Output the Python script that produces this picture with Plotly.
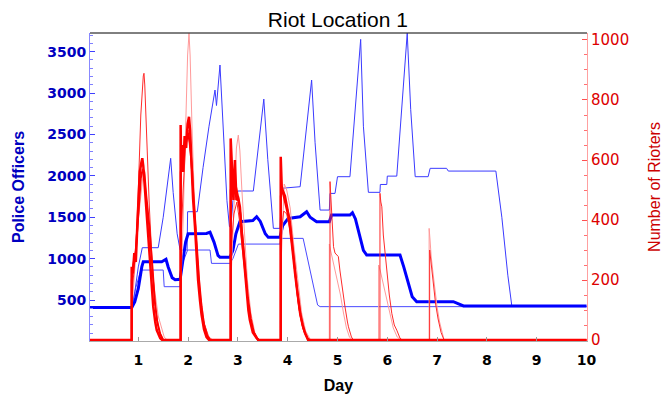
import plotly.graph_objects as go

# ---------------- Police officers (left axis) ----------------
police_mean_day = [0.03, 0.87, 0.93, 1.0, 1.07, 1.10, 1.47, 1.556, 1.60, 1.68, 1.74, 1.84, 1.90, 1.95, 2.0,
                   2.37, 2.44, 2.52, 2.60, 2.64, 2.84, 2.90, 2.96, 3.04, 3.30, 3.377, 3.45, 3.55, 3.61,
                   3.845, 3.90, 4.01, 4.25, 4.38, 4.45, 4.58, 4.836, 4.88, 5.25, 5.30, 5.36, 5.45, 5.52,
                   5.586, 6.255, 6.33, 6.42, 6.50, 6.59, 7.326, 7.53, 10.0]
police_mean = [410, 410, 480, 640, 900, 963, 963, 992, 900, 770, 745, 750, 1000, 1200, 1300,
               1305, 1320, 1200, 1040, 1016, 1016, 1100, 1300, 1446, 1460, 1506, 1450, 1300, 1257,
               1257, 1400, 1486, 1506, 1567, 1500, 1446, 1446, 1527, 1527, 1555, 1480, 1250, 1100,
               1044, 1044, 900, 700, 540, 480, 480, 428, 428]

police_high_day = [0.03, 0.87, 0.93, 1.0, 1.08, 1.40, 1.50, 1.58, 1.65, 1.70, 1.78, 1.84, 1.98, 1.99, 2.185,
                   2.30, 2.42, 2.54, 2.57, 2.64, 2.70, 2.78, 2.83, 2.86, 2.90, 3.0, 3.31, 3.42, 3.52, 3.60,
                   3.712, 3.845, 3.88, 4.25, 4.35, 4.448, 4.48, 4.55, 4.65, 4.836, 4.85, 4.95, 5.0, 5.25,
                   5.36, 5.465, 5.52, 5.62, 5.853, 5.86, 5.99, 6.0, 6.19, 6.30, 6.40, 6.47, 6.56, 6.82,
                   6.86, 7.19, 7.225, 8.18, 8.30, 8.42, 8.50, 10.0]
police_high = [410, 410, 600, 900, 1132, 1132, 1500, 1900, 2212, 1800, 1300, 1104, 1104, 1567, 1567,
               2100, 2600, 3037, 2850, 3339, 2600, 1700, 1386, 1386, 1700, 1817, 1817, 2400, 2928, 2200,
               1366, 1366, 1850, 1869, 2400, 2916, 3158, 2400, 1587, 1587, 1788, 1788, 1990, 1990,
               2800, 3649, 2600, 1801, 1801, 1896, 1896, 1997, 1997, 2900, 3722, 2800, 1990, 1990,
               2091, 2091, 2058, 2058, 1500, 800, 430, 425]

police_low_day = [0.03, 0.87, 0.95, 1.05, 1.50, 1.52, 1.84, 1.86, 1.99, 2.44, 2.47, 2.84, 2.90, 3.01,
                  3.845, 3.86, 4.31, 4.40, 4.50, 4.60, 4.65, 10.0]
police_low = [410, 410, 650, 862, 862, 661, 661, 900, 1104, 1104, 943, 943, 1000, 1176,
              1176, 1245, 1245, 1000, 700, 440, 420, 420]

# ---------------- Number of rioters (right axis) ----------------
riot_run1_day = [0.03,
                 0.866, 0.867, 0.89, 0.92, 0.95, 0.98, 1.0, 1.03, 1.06, 1.08, 1.10, 1.13, 1.18, 1.235, 1.27, 1.30, 1.34, 1.37, 1.44, 1.48,
                 1.849, 1.85, 1.86, 1.88, 1.9, 1.93, 1.96, 1.99, 2.018, 2.04, 2.07, 2.1, 2.137, 2.17, 2.2, 2.24, 2.27, 2.32, 2.37, 2.42,
                 2.854, 2.855, 2.876, 2.91, 2.94, 2.97, 3.008, 3.04, 3.08, 3.11, 3.14, 3.17, 3.21, 3.24, 3.3, 3.377, 3.42,
                 3.859, 3.86, 3.88, 3.91, 3.95, 3.98, 4.02, 4.046, 4.08, 4.11, 4.15, 4.18, 4.22, 4.25, 4.3, 4.35, 4.41,
                 10.0]
riot_run1 = [0,
             0, 244, 222, 290, 260, 380, 470, 560, 590, 606, 580, 511, 400, 289, 190, 111, 60, 33, 6, 0,
             0, 717, 600, 650, 560, 680, 640, 720, 744, 700, 560, 470, 380, 280, 200, 130, 85, 35, 10, 0,
             0, 672, 567, 467, 600, 467, 472, 444, 350, 289, 220, 156, 100, 67, 25, 6, 0,
             0, 611, 511, 489, 470, 444, 410, 378, 320, 267, 220, 178, 130, 89, 50, 22, 0,
             0]

riot_run2_day = [0.03,
                 0.868, 0.869, 0.9, 0.95, 1.0, 1.05, 1.09, 1.12, 1.16, 1.22, 1.28, 1.33, 1.38, 1.44, 1.5,
                 1.852, 1.853, 1.88, 1.92, 1.96, 2.0, 2.03, 2.07, 2.12, 2.17, 2.22, 2.27, 2.32, 2.38, 2.44,
                 2.856, 2.857, 2.9, 2.95, 3.0, 3.05, 3.1, 3.15, 3.2, 3.26, 3.32, 3.4,
                 3.861, 3.862, 3.9, 3.95, 4.0, 4.05, 4.1, 4.15, 4.2, 4.26, 4.33, 4.4, 4.45,
                 10.0]
riot_run2 = [0,
             0, 200, 250, 300, 430, 540, 570, 560, 480, 380, 250, 130, 60, 20, 0,
             0, 560, 600, 640, 660, 690, 660, 590, 450, 320, 200, 110, 50, 15, 0,
             0, 500, 540, 520, 480, 420, 330, 230, 140, 70, 25, 0,
             0, 480, 500, 480, 440, 390, 310, 230, 150, 80, 30, 5, 0,
             0]

riot_run3_day = [0.03,
                 0.87, 0.871, 0.95, 1.0, 1.05, 1.10, 1.114, 1.13, 1.17, 1.22, 1.28, 1.35, 1.42, 1.5,
                 1.85, 1.851, 1.9, 1.95, 2.0, 2.05, 2.1, 2.16, 2.22, 2.3, 2.4, 2.46,
                 2.86, 2.861, 2.92, 2.98, 3.03, 3.09, 3.15, 3.22, 3.3, 3.4, 3.45,
                 3.865, 3.866, 3.92, 3.98, 4.04, 4.1, 4.16, 4.22, 4.3, 4.4, 4.45,
                 4.849, 4.85, 4.87, 4.9, 4.92, 4.95, 5.017, 5.05, 5.08, 5.12, 5.15, 5.2, 5.22, 5.28, 5.32,
                 5.852, 5.853, 5.87, 5.89, 5.92, 5.955, 5.99, 6.04, 6.09, 6.14, 6.19, 6.255, 6.3,
                 6.85, 6.851, 6.88, 6.92, 6.97, 7.02, 7.08, 7.14,
                 10.0]
riot_run3 = [0,
             0, 150, 300, 500, 750, 880, 889, 850, 650, 450, 250, 100, 30, 0,
             0, 300, 500, 650, 700, 620, 480, 330, 180, 70, 15, 0,
             0, 300, 420, 460, 400, 300, 200, 100, 35, 5, 0,
             0, 350, 430, 420, 370, 290, 200, 110, 40, 5, 0,
             0, 528, 450, 380, 311, 290, 278, 230, 189, 140, 111, 60, 44, 10, 0,
             0, 489, 460, 444, 350, 289, 222, 150, 89, 50, 33, 6, 0,
             0, 300, 250, 180, 120, 70, 25, 0,
             0]

riot_run4_day = [0.03,
                 0.87, 0.871, 1.0, 1.1, 1.2, 1.3, 1.4, 1.52, 1.58,
                 1.85, 1.851, 1.9, 1.95, 1.99, 2.018, 2.04, 2.08, 2.12, 2.18, 2.25, 2.33, 2.42, 2.5,
                 2.86, 2.861, 2.92, 2.97, 3.008, 3.04, 3.08, 3.13, 3.19, 3.26, 3.34, 3.42,
                 3.865, 3.866, 3.93, 3.98, 4.05, 4.12, 4.2, 4.28, 4.36, 4.46,
                 4.835, 4.836, 4.86, 4.9, 4.95, 5.0, 5.06, 5.12, 5.18, 5.24, 5.3,
                 5.825, 5.826, 5.86, 5.9, 5.95, 6.0, 6.06, 6.12, 6.2, 6.27,
                 6.839, 6.84, 6.86, 6.88, 6.92, 6.96, 7.0, 7.05, 7.1, 7.14,
                 10.0]
riot_run4 = [0,
             0, 100, 400, 560, 420, 200, 80, 10, 0,
             0, 150, 400, 700, 950, 1022, 950, 700, 500, 300, 150, 50, 10, 0,
             0, 200, 450, 640, 683, 630, 500, 350, 200, 90, 25, 0,
             0, 250, 520, 500, 440, 320, 200, 90, 30, 0,
             0, 320, 300, 270, 240, 200, 150, 90, 40, 10, 0,
             0, 250, 230, 200, 170, 130, 80, 40, 10, 0,
             0, 372, 330, 280, 220, 160, 110, 60, 20, 0,
             0]

left_ticks = [500, 1000, 1500, 2000, 2500, 3000, 3500]
right_ticks = [0, 200, 400, 600, 800, 1000]
day_ticks = [1, 2, 3, 4, 5, 6, 7, 8, 9, 10]

for a, b in [(police_mean_day, police_mean), (police_high_day, police_high), (police_low_day, police_low),
             (riot_run1_day, riot_run1), (riot_run2_day, riot_run2), (riot_run3_day, riot_run3),
             (riot_run4_day, riot_run4)]:
    assert len(a) == len(b), (len(a), len(b))

FONT = "Liberation Sans, Arial, sans-serif"
TICKFONT = "DejaVu Sans, sans-serif"

fig = go.Figure()
# police runs
fig.add_trace(go.Scatter(x=police_low_day, y=police_low, mode="lines",
                         line=dict(color="#4a4aff", width=1), yaxis="y"))
fig.add_trace(go.Scatter(x=police_high_day, y=police_high, mode="lines",
                         line=dict(color="#3a3aff", width=1), yaxis="y"))
fig.add_trace(go.Scatter(x=police_mean_day, y=police_mean, mode="lines",
                         line=dict(color="#0000ff", width=3), yaxis="y"))
# rioter runs
fig.add_trace(go.Scatter(x=riot_run4_day, y=riot_run4, mode="lines",
                         line=dict(color="#ff9a9a", width=1), yaxis="y2"))
fig.add_trace(go.Scatter(x=riot_run3_day, y=riot_run3, mode="lines",
                         line=dict(color="#ff2a2a", width=1), yaxis="y2"))
fig.add_trace(go.Scatter(x=riot_run2_day, y=riot_run2, mode="lines",
                         line=dict(color="#ff0000", width=2), yaxis="y2"))
fig.add_trace(go.Scatter(x=riot_run1_day, y=riot_run1, mode="lines",
                         line=dict(color="#ff0000", width=2.5), yaxis="y2"))

fig.update_layout(
    width=669, height=401,
    margin=dict(l=90, r=82, t=33, b=60),
    paper_bgcolor="white", plot_bgcolor="white",
    showlegend=False,
    font=dict(family=FONT),
    title=dict(text="Riot Location 1", x=0.505, xanchor="center", y=0.95, yanchor="middle",
               font=dict(size=21, color="black", family=FONT)),
    xaxis=dict(range=[0.03, 10.01], tickmode="array", tickvals=day_ticks,
               ticks="inside", ticklen=4, tickcolor="#999999", showgrid=False, zeroline=False,
               showline=True, linecolor="#aaaaaa", linewidth=1, ticklabelstandoff=6,
               tickfont=dict(size=14, color="black", weight="bold", family=TICKFONT),
               title=dict(text="Day", font=dict(size=16, color="black", weight="bold"), standoff=13),
               automargin=False),
    yaxis=dict(range=[5, 3726], tickmode="array", tickvals=left_ticks,
               ticks="inside", ticklen=5, tickcolor="#4040ff", showgrid=False, zeroline=False,
               showline=True, linecolor="#8888ff", linewidth=1,
               minor=dict(dtick=100, tick0=0, ticks="inside", ticklen=3, tickcolor="#8080ff"),
               tickfont=dict(size=14, color="#0000c0", weight="bold", family=TICKFONT),
               title=dict(text="Police Officers", font=dict(size=16, color="#0000c0", weight="bold"),
                          standoff=18),
               automargin=False),
    yaxis2=dict(range=[-3.3, 1023.3], overlaying="y", side="right", tickmode="array",
                tickvals=right_ticks, ticks="inside", ticklen=5, tickcolor="#ff5050",
                showgrid=False, zeroline=False, showline=True, linecolor="#ffa0a0", linewidth=1,
                minor=dict(dtick=50, tick0=0, ticks="inside", ticklen=3, tickcolor="#ff7070"),
                tickfont=dict(size=15, color="#dd0000", family=TICKFONT),
                title=dict(text="Number of Rioters", font=dict(size=16, color="#cc0000"), standoff=20),
                automargin=False),
    shapes=[dict(type="line", xref="paper", yref="paper", x0=0, x1=1, y0=1, y1=1,
                 line=dict(color="black", width=1))],
)

fig.write_html("out.html", config={"displayModeBar": False},
               post_script="document.body.style.margin='0px';")
